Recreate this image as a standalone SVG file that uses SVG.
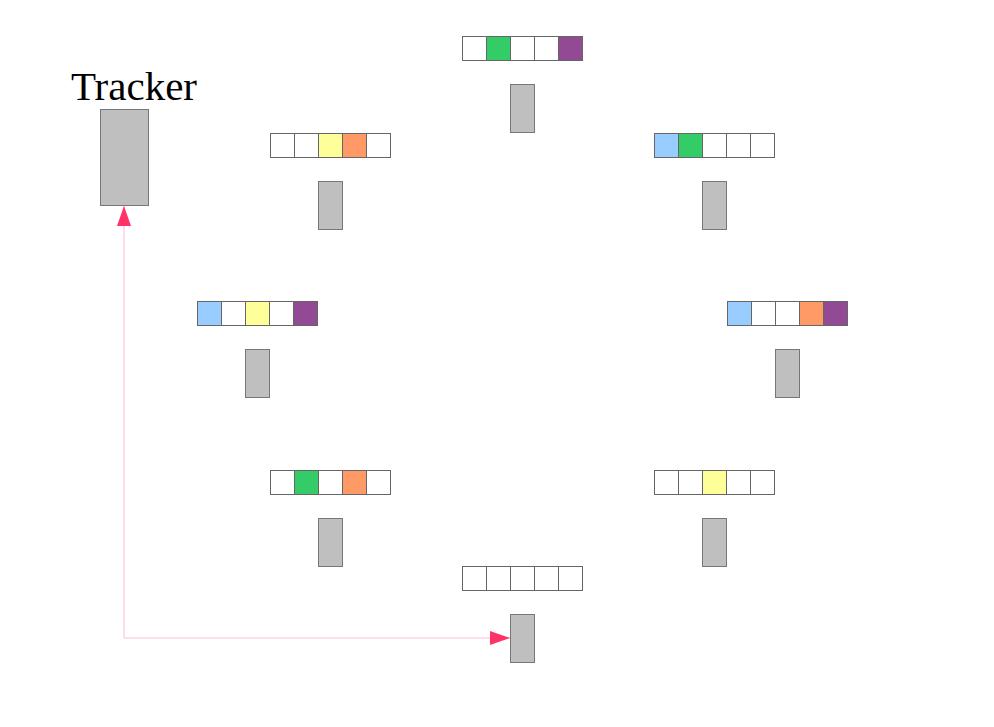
<svg xmlns="http://www.w3.org/2000/svg" width="994" height="727" viewBox="0 0 994 727">
<style>
.c{stroke:#666;stroke-width:1;fill:#fff}
.g{fill:#bfbfbf;stroke:#777;stroke-width:1}
.G{fill:#33cc66}.P{fill:#924a94}.Y{fill:#ffff99}.O{fill:#ff9966}.B{fill:#99ccff}
.t{font-family:"Liberation Serif",serif;font-size:41px;fill:#000}
</style>
<defs>
<marker id="ah" viewBox="0 0 20 14" refX="20" refY="7" markerWidth="20" markerHeight="14" markerUnits="userSpaceOnUse" orient="auto-start-reverse">
<path d="M0,0 L20,7 L0,14 Z" fill="#ff3366"/>
</marker>
</defs>
<rect width="994" height="727" fill="#fff"/>
<g id="connectors">
<path d="M124,206 L124,638 L510,638" fill="none" stroke="#ffbbdd" stroke-width="1" marker-start="url(#ah)" marker-end="url(#ah)"/>
</g>
<g id="tracker">
<text class="t" x="134" y="100" text-anchor="middle">Tracker</text>
<rect class="g" x="100.5" y="109.5" width="48" height="96"/>
</g>
<g id="n-top">
<rect class="c" x="462.5" y="36.5" width="24" height="24"/><rect class="c G" x="486.5" y="36.5" width="24" height="24"/><rect class="c" x="510.5" y="36.5" width="24" height="24"/><rect class="c" x="534.5" y="36.5" width="24" height="24"/><rect class="c P" x="558.5" y="36.5" width="24" height="24"/>
<rect class="g" x="510.5" y="84.5" width="24" height="48"/>
</g>
<g id="n-upper-left">
<rect class="c" x="270.5" y="133.5" width="24" height="24"/><rect class="c" x="294.5" y="133.5" width="24" height="24"/><rect class="c Y" x="318.5" y="133.5" width="24" height="24"/><rect class="c O" x="342.5" y="133.5" width="24" height="24"/><rect class="c" x="366.5" y="133.5" width="24" height="24"/>
<rect class="g" x="318.5" y="181.5" width="24" height="48"/>
</g>
<g id="n-upper-right">
<rect class="c B" x="654.5" y="133.5" width="24" height="24"/><rect class="c G" x="678.5" y="133.5" width="24" height="24"/><rect class="c" x="702.5" y="133.5" width="24" height="24"/><rect class="c" x="726.5" y="133.5" width="24" height="24"/><rect class="c" x="750.5" y="133.5" width="24" height="24"/>
<rect class="g" x="702.5" y="181.5" width="24" height="48"/>
</g>
<g id="n-mid-left">
<rect class="c B" x="197.5" y="301.5" width="24" height="24"/><rect class="c" x="221.5" y="301.5" width="24" height="24"/><rect class="c Y" x="245.5" y="301.5" width="24" height="24"/><rect class="c" x="269.5" y="301.5" width="24" height="24"/><rect class="c P" x="293.5" y="301.5" width="24" height="24"/>
<rect class="g" x="245.5" y="349.5" width="24" height="48"/>
</g>
<g id="n-mid-right">
<rect class="c B" x="727.5" y="301.5" width="24" height="24"/><rect class="c" x="751.5" y="301.5" width="24" height="24"/><rect class="c" x="775.5" y="301.5" width="24" height="24"/><rect class="c O" x="799.5" y="301.5" width="24" height="24"/><rect class="c P" x="823.5" y="301.5" width="24" height="24"/>
<rect class="g" x="775.5" y="349.5" width="24" height="48"/>
</g>
<g id="n-low-left">
<rect class="c" x="270.5" y="470.5" width="24" height="24"/><rect class="c G" x="294.5" y="470.5" width="24" height="24"/><rect class="c" x="318.5" y="470.5" width="24" height="24"/><rect class="c O" x="342.5" y="470.5" width="24" height="24"/><rect class="c" x="366.5" y="470.5" width="24" height="24"/>
<rect class="g" x="318.5" y="518.5" width="24" height="48"/>
</g>
<g id="n-low-right">
<rect class="c" x="654.5" y="470.5" width="24" height="24"/><rect class="c" x="678.5" y="470.5" width="24" height="24"/><rect class="c Y" x="702.5" y="470.5" width="24" height="24"/><rect class="c" x="726.5" y="470.5" width="24" height="24"/><rect class="c" x="750.5" y="470.5" width="24" height="24"/>
<rect class="g" x="702.5" y="518.5" width="24" height="48"/>
</g>
<g id="n-bottom">
<rect class="c" x="462.5" y="566.5" width="24" height="24"/><rect class="c" x="486.5" y="566.5" width="24" height="24"/><rect class="c" x="510.5" y="566.5" width="24" height="24"/><rect class="c" x="534.5" y="566.5" width="24" height="24"/><rect class="c" x="558.5" y="566.5" width="24" height="24"/>
<rect class="g" x="510.5" y="614.5" width="24" height="48"/>
</g>
</svg>
